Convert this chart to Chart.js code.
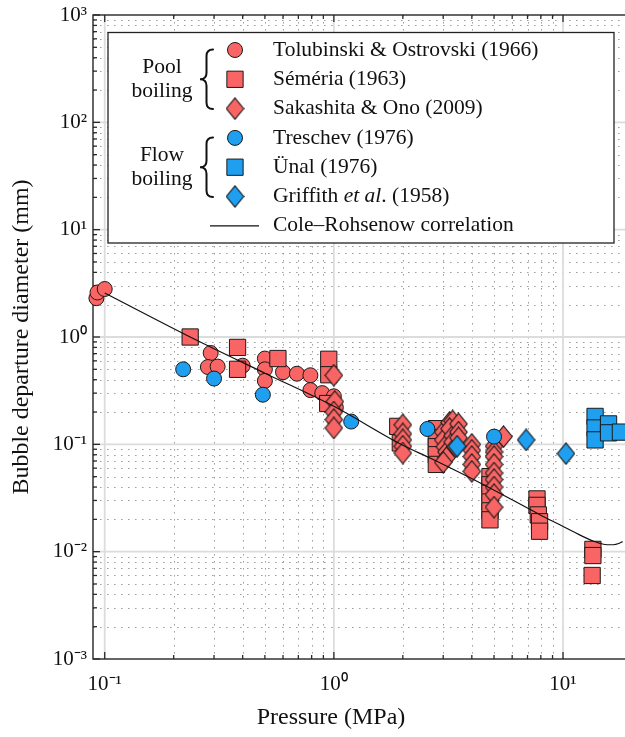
<!DOCTYPE html>
<html>
<head>
<meta charset="utf-8">
<style>
  html, body { margin: 0; padding: 0; background: #fff; overflow: hidden; width: 625px; height: 737px; }
  #wrap { position: absolute; left: 0; top: 0; width: 632px; height: 737px; }
</style>
<script src="https://cdn.jsdelivr.net/npm/chart.js@4.4.1/dist/chart.umd.min.js"></script>
</head>
<body>
<div id="wrap"><canvas id="c" width="632" height="737"></canvas></div>
<script>
const SERIF = "'Liberation Serif', 'Times New Roman', serif";
const RED = '#f96464';
const BLUE = '#1e9ff0';
const EDGE = '#1a1a1a';
const INK = '#111';

// Axis decades and their labels
const X_DECADES = [0.1, 1, 10];
const X_TICK_LABELS = ['10⁻¹', '10⁰', '10¹'];
const Y_DECADES = [1e-3, 1e-2, 1e-1, 1, 10, 100, 1000];
const Y_TICK_LABELS = ['10⁻³', '10⁻²', '10⁻¹', '10⁰', '10¹', '10²', '10³'];

// Pool boiling
const TOLUBINSKI_P = [0.092, 0.093, 0.1, 0.29, 0.282, 0.311, 0.4, 0.5, 0.5, 0.5, 0.6, 0.69, 0.79, 0.79, 0.89, 1.0, 1.02];
const TOLUBINSKI_D = [2.3, 2.6, 2.8, 0.71, 0.525, 0.53, 0.54, 0.63, 0.5, 0.39, 0.47, 0.455, 0.44, 0.32, 0.3, 0.28, 0.22];

const SEMERIA_P = [0.236, 0.38, 0.38, 0.57, 0.95, 0.95, 0.94, 1.9, 1.95, 2.8, 2.8, 2.8, 2.8, 2.8,
                   4.8, 4.8, 4.8, 4.8, 4.8, 4.8, 7.7, 7.7, 7.8, 7.9, 7.9, 13.5, 13.5, 13.4];
const SEMERIA_D = [1.0, 0.8, 0.5, 0.63, 0.62, 0.445, 0.24, 0.147, 0.103, 0.14, 0.115, 0.095, 0.08, 0.065,
                   0.05, 0.042, 0.035, 0.029, 0.024, 0.0198, 0.031, 0.027, 0.022, 0.019, 0.0155, 0.0105, 0.0092, 0.006];

const SAKASHITA_P = [1.0, 1.01, 1.0, 1.0, 1.0,
                     2.0, 2.0, 2.0, 2.0, 2.0,
                     3.0, 3.0, 3.05, 3.1, 3.1, 3.0, 3.2, 3.3, 3.2, 3.3, 3.3, 3.4, 3.5, 3.5, 3.5,
                     4.0, 4.0, 4.0, 4.0, 4.0,
                     5.0, 5.0, 5.0, 5.0, 5.0, 5.0, 5.0, 5.0, 5.0, 5.5];
const SAKASHITA_D = [0.44, 0.25, 0.2, 0.17, 0.142,
                     0.152, 0.125, 0.11, 0.096, 0.083,
                     0.13, 0.11, 0.095, 0.085, 0.075, 0.068, 0.16, 0.165, 0.14, 0.12, 0.105, 0.095, 0.155, 0.13, 0.115,
                     0.1, 0.088, 0.077, 0.065, 0.056,
                     0.096, 0.085, 0.077, 0.065, 0.054, 0.047, 0.04, 0.034, 0.026, 0.118];

// Flow boiling
const TRESCHEV_P = [0.22, 0.3, 0.49, 1.19, 2.56, 5.0];
const TRESCHEV_D = [0.5, 0.41, 0.29, 0.163, 0.139, 0.118];

const UNAL_P = [13.8, 13.8, 13.8, 15.8, 15.8, 17.8];
const UNAL_D = [0.182, 0.142, 0.11, 0.155, 0.128, 0.13];

const GRIFFITH_P = [3.45, 6.9, 10.3];
const GRIFFITH_D = [0.096, 0.11, 0.082];

// Cole–Rohsenow correlation
const COLE_P = [0.1, 0.236, 0.5, 1.0, 2.0, 2.63, 4.66, 7.96, 9.69, 12.0, 13.6, 14.6, 15.6, 16.6, 17.5, 18.2];
const COLE_D = [2.57, 1.0, 0.46, 0.226, 0.098, 0.0745, 0.0405, 0.022, 0.0178, 0.0141, 0.0125, 0.0119, 0.0116, 0.0116, 0.0119, 0.0124];

const pts = (xs, ys) => xs.map((x, i) => ({ x, y: ys[i] }));

// Tall diamond marker as a sprite
function diamondSprite(fill) {
  const w = 19, h = 23;
  const c = document.createElement('canvas');
  c.width = w; c.height = h;
  const g = c.getContext('2d');
  g.beginPath();
  g.moveTo(w / 2, 0.8); g.lineTo(w - 0.8, h / 2); g.lineTo(w / 2, h - 0.8); g.lineTo(0.8, h / 2);
  g.closePath();
  g.fillStyle = fill; g.fill();
  g.lineWidth = 1.1; g.strokeStyle = EDGE; g.stroke();
  return c;
}
const RED_DIAMOND = diamondSprite(RED);
const BLUE_DIAMOND = diamondSprite(BLUE);

function markerSet(label, xs, ys, style, fill, radius, order) {
  return {
    label, data: pts(xs, ys), order, clip: false,
    pointStyle: style, pointRadius: radius, pointHoverRadius: radius,
    pointBackgroundColor: fill, pointBorderColor: EDGE, pointBorderWidth: 1,
    backgroundColor: fill, borderColor: EDGE
  };
}

const datasets = [
  markerSet('Tolubinski & Ostrovski (1966)', TOLUBINSKI_P, TOLUBINSKI_D, 'circle', RED, 7.5, 7),
  markerSet('Séméria (1963)', SEMERIA_P, SEMERIA_D, 'rect', RED, 11.5, 6),
  markerSet('Sakashita & Ono (2009)', SAKASHITA_P, SAKASHITA_D, RED_DIAMOND, RED, 10, 5),
  markerSet('Treschev (1976)', TRESCHEV_P, TRESCHEV_D, 'circle', BLUE, 7.5, 4),
  markerSet('Ünal (1976)', UNAL_P, UNAL_D, 'rect', BLUE, 11.5, 3),
  markerSet('Griffith et al. (1958)', GRIFFITH_P, GRIFFITH_D, BLUE_DIAMOND, BLUE, 10, 2),
  {
    type: 'line', label: 'Cole–Rohsenow correlation', data: pts(COLE_P, COLE_D), order: 1,
    borderColor: INK, borderWidth: 1.2, pointRadius: 0, fill: false,
    cubicInterpolationMode: 'monotone', showLine: true
  }
];

// Dotted minor grid, solid decade grid, box frame and inward ticks
const frame = {
  id: 'frame',
  beforeDatasetsDraw(chart) {
    const { ctx, chartArea: a, scales: { x, y } } = chart;
    const xMinor = [], yMinor = [];
    [0.1, 1, 10].forEach(d => { for (let k = 2; k <= 9; k++) if (k * d < x.max) xMinor.push(k * d); });
    [1e-3, 1e-2, 1e-1, 1, 10, 100].forEach(d => { for (let k = 2; k <= 9; k++) yMinor.push(k * d); });
    ctx.save();
    ctx.lineWidth = 1; ctx.strokeStyle = '#a0a0a0'; ctx.setLineDash([1.6, 5.4]);
    xMinor.forEach(v => { const p = Math.round(x.getPixelForValue(v)) + 0.5; ctx.beginPath(); ctx.moveTo(p, a.top); ctx.lineTo(p, a.bottom); ctx.stroke(); });
    yMinor.forEach(v => { const p = Math.round(y.getPixelForValue(v)) + 0.5; ctx.beginPath(); ctx.moveTo(a.left, p); ctx.lineTo(a.right, p); ctx.stroke(); });
    ctx.setLineDash([]);
    ctx.strokeStyle = '#dcdcdc'; ctx.lineWidth = 1.8;
    X_DECADES.forEach(v => { const p = x.getPixelForValue(v); ctx.beginPath(); ctx.moveTo(p, a.top); ctx.lineTo(p, a.bottom); ctx.stroke(); });
    Y_DECADES.slice(1, -1).forEach(v => { const p = y.getPixelForValue(v); ctx.beginPath(); ctx.moveTo(a.left, p); ctx.lineTo(a.right, p); ctx.stroke(); });
    // ticks
    ctx.strokeStyle = '#2a2a2a'; ctx.lineWidth = 1.3;
    const tick = (x1, y1, x2, y2) => { ctx.beginPath(); ctx.moveTo(x1, y1); ctx.lineTo(x2, y2); ctx.stroke(); };
    X_DECADES.forEach(v => { const p = x.getPixelForValue(v); tick(p, a.bottom, p, a.bottom - 7); tick(p, a.top, p, a.top + 7); });
    xMinor.forEach(v => { const p = x.getPixelForValue(v); tick(p, a.bottom, p, a.bottom - 4); tick(p, a.top, p, a.top + 4); });
    Y_DECADES.forEach(v => { const p = y.getPixelForValue(v); tick(a.left, p, a.left + 7, p); tick(a.right, p, a.right - 7, p); });
    yMinor.forEach(v => { const p = y.getPixelForValue(v); tick(a.left, p, a.left + 4, p); tick(a.right, p, a.right - 4, p); });
    ctx.strokeStyle = '#262626'; ctx.lineWidth = 1.4;
    ctx.strokeRect(a.left, a.top, a.right - a.left, a.bottom - a.top);
    ctx.restore();
  }
};

function drawBrace(ctx, x, y1, y2) {
  const w = 6.5, ym = (y1 + y2) / 2;
  ctx.beginPath();
  ctx.moveTo(x + w, y1);
  ctx.quadraticCurveTo(x, y1, x, y1 + w);
  ctx.lineTo(x, ym - w);
  ctx.quadraticCurveTo(x, ym, x - w, ym);
  ctx.quadraticCurveTo(x, ym, x, ym + w);
  ctx.lineTo(x, y2 - w);
  ctx.quadraticCurveTo(x, y2, x + w, y2);
  ctx.stroke();
}

// Grouped legend with braces, plus the x-axis title
const legendBox = {
  id: 'legendBox',
  afterDatasetsDraw(chart) {
    const { ctx, chartArea: a } = chart;
    const L = a.left + 15, T = a.top + 17.5, R = 614, B = 243;
    ctx.save();
    ctx.fillStyle = '#fff'; ctx.fillRect(L, T, R - L, B - T);
    ctx.strokeStyle = '#222'; ctx.lineWidth = 1.3; ctx.strokeRect(L, T, R - L, B - T);

    const rowY = i => T + 17.5 + i * 29.3;
    const markX = 235, textX = 273;
    const font = '21.5px ' + SERIF, italic = 'italic 21.5px ' + SERIF;
    ctx.textBaseline = 'middle';
    ctx.fillStyle = INK;

    datasets.slice(0, 6).forEach((ds, i) => {
      ctx.save();
      ctx.fillStyle = ds.pointBackgroundColor; ctx.strokeStyle = EDGE; ctx.lineWidth = 1;
      Chart.helpers.drawPoint(ctx, { pointStyle: ds.pointStyle, radius: ds.pointRadius, rotation: 0, borderWidth: 1 }, markX, rowY(i));
      ctx.restore();
    });

    ctx.textAlign = 'left';
    const plain = ['Tolubinski & Ostrovski (1966)', 'Séméria (1963)', 'Sakashita & Ono (2009)', 'Treschev (1976)', 'Ünal (1976)'];
    ctx.font = font;
    plain.forEach((t, i) => ctx.fillText(t, textX, rowY(i)));
    // Griffith et al. (1958)
    let cx = textX;
    [['Griffith ', font], ['et al', italic], ['. (1958)', font]].forEach(([t, f]) => {
      ctx.font = f; ctx.fillText(t, cx, rowY(5)); cx += ctx.measureText(t).width;
    });
    ctx.font = font;
    ctx.fillText('Cole–Rohsenow correlation', textX, rowY(6));
    ctx.strokeStyle = INK; ctx.lineWidth = 1.2;
    ctx.beginPath(); ctx.moveTo(210, rowY(6)); ctx.lineTo(259, rowY(6)); ctx.stroke();

    // group labels
    ctx.textAlign = 'center';
    ctx.fillText('Pool', 162, rowY(1) - 12);
    ctx.fillText('boiling', 162, rowY(1) + 12);
    ctx.fillText('Flow', 162, rowY(4) - 12);
    ctx.fillText('boiling', 162, rowY(4) + 12);
    ctx.strokeStyle = INK; ctx.lineWidth = 2; ctx.lineCap = 'round';
    drawBrace(ctx, 206.5, rowY(0) - 0.5, rowY(2) + 0.5);
    drawBrace(ctx, 206.5, rowY(3) - 0.5, rowY(5) + 0.5);

    // x-axis title
    ctx.font = '24px ' + SERIF;
    ctx.fillText('Pressure (MPa)', 331, 718);
    ctx.restore();
  }
};

new Chart(document.getElementById('c'), {
  type: 'scatter',
  data: { datasets },
  plugins: [frame, legendBox],
  options: {
    responsive: false,
    animation: false,
    devicePixelRatio: 1,
    layout: { autoPadding: false, padding: { top: 15, left: 0, right: 0, bottom: 0 } },
    plugins: { legend: { display: false }, tooltip: { enabled: false } },
    scales: {
      x: {
        type: 'logarithmic', position: 'bottom', min: 0.0889, max: 20,
        grid: { display: false, drawTicks: false }, border: { display: false },
        afterBuildTicks: s => { s.ticks = X_DECADES.map(v => ({ value: v })); },
        afterFit: s => { s.height = 78; s.paddingLeft = 0; s.paddingRight = 0; },
        ticks: {
          autoSkip: false, maxRotation: 0, padding: 13, color: INK,
          font: { family: SERIF, size: 21 },
          callback: v => { const i = X_DECADES.indexOf(v); return i >= 0 ? X_TICK_LABELS[i] : ''; }
        }
      },
      y: {
        type: 'logarithmic', position: 'left', min: 1e-3, max: 1e3,
        grid: { display: false, drawTicks: false }, border: { display: false },
        afterBuildTicks: s => { s.ticks = Y_DECADES.map(v => ({ value: v })); },
        afterFit: s => { s.width = 93; s.paddingTop = 0; s.paddingBottom = 0; },
        title: {
          display: true, text: 'Bubble departure diameter (mm)', color: INK,
          font: { family: SERIF, size: 24 }, padding: { top: 7.5, bottom: 0 }
        },
        ticks: {
          autoSkip: false, padding: 6, color: INK,
          font: { family: SERIF, size: 21 },
          callback: v => { const i = Y_DECADES.indexOf(v); return i >= 0 ? Y_TICK_LABELS[i] : ''; }
        }
      }
    }
  }
});
</script>
</body>
</html>
